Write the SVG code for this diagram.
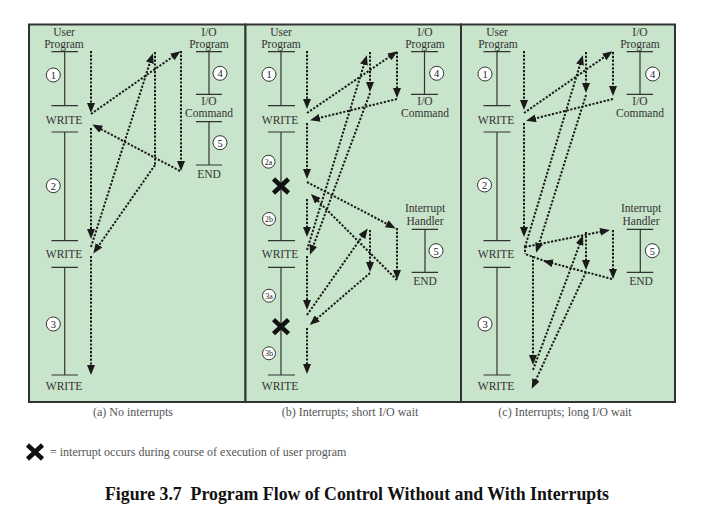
<svg xmlns="http://www.w3.org/2000/svg" width="706" height="518" viewBox="0 0 706 518">
<defs>
<marker id="ah" markerUnits="userSpaceOnUse" markerWidth="10" markerHeight="8" refX="7" refY="4" orient="auto">
<path d="M0,0 L10,4 L0,8 z" fill="#1a1a1a"/>
</marker>
<style>
.panel{fill:#c8e4ca;stroke:#333;stroke-width:2}
.lbl{font-family:"Liberation Serif","Times New Roman",serif;font-size:11.5px;fill:#333;text-anchor:middle}
.num{font-family:"Liberation Serif","Times New Roman",serif;font-size:10.5px;fill:#222;text-anchor:middle}
.sm{font-family:"Liberation Serif","Times New Roman",serif;font-size:8px;fill:#222;text-anchor:middle}
.cap{font-family:"Liberation Serif","Times New Roman",serif;font-size:12px;fill:#555;text-anchor:middle}
.leg{font-family:"Liberation Serif","Times New Roman",serif;font-size:12px;fill:#555}
.title{font-family:"Liberation Serif","Times New Roman",serif;font-size:17.8px;font-weight:bold;fill:#111;text-anchor:middle}
.tl{stroke:#333;stroke-width:1.2;fill:none}
.circ{fill:#fff;stroke:#333;stroke-width:1}
.fl{stroke:#1a1a1a;stroke-width:2;stroke-dasharray:2.2 1.6;fill:none}
.fa{stroke:#1a1a1a;stroke-width:2;stroke-dasharray:2.2 1.6;fill:none;marker-end:url(#ah)}
.x{stroke:#111;stroke-width:4.5;stroke-linecap:butt}
</style>
</defs>
<rect width="706" height="518" fill="#fff"/>

<g id="panels">
<rect class="panel" x="29" y="24.5" width="216.5" height="377.5"/>
<rect class="panel" x="245.5" y="24.5" width="215.5" height="377.5"/>
<rect class="panel" x="461" y="24.5" width="214" height="377.5"/>
</g>

<!-- Panel a -->
<g id="a-user">
<text class="lbl" x="64" y="35.5">User</text>
<text class="lbl" x="64" y="47.5">Program</text>
<path class="tl" d="M51.5,51.7H78M64.7,51.7V105.7M51.5,105.7H78M51.5,132H78M64.7,132V240.7M51.5,240.7H78M51.5,267.3H78M64.7,267.3V375M51.5,375H78"/>
<text class="lbl" x="64" y="123.5">WRITE</text>
<text class="lbl" x="64" y="258">WRITE</text>
<text class="lbl" x="64" y="390">WRITE</text>
<circle class="circ" cx="53.3" cy="75" r="7"/><text class="num" x="53.3" y="78.8">1</text>
<circle class="circ" cx="53.3" cy="185.7" r="7"/><text class="num" x="53.3" y="189.5">2</text>
<circle class="circ" cx="53.3" cy="324" r="7"/><text class="num" x="53.3" y="327.8">3</text>
</g>
<g id="a-io">
<text class="lbl" x="209" y="35.5">I/O</text>
<text class="lbl" x="209" y="47.5">Program</text>
<path class="tl" d="M196,51.7H222M209,51.7V94.3M196,94.3H222M196,121.7H222M209,121.7V165M196,165H222"/>
<text class="lbl" x="209" y="104.5">I/O</text>
<text class="lbl" x="209" y="116.5">Command</text>
<text class="lbl" x="209" y="177.5">END</text>
<circle class="circ" cx="220" cy="73.3" r="7"/><text class="num" x="220" y="77.1">4</text>
<circle class="circ" cx="220" cy="142.7" r="7"/><text class="num" x="220" y="146.5">5</text>
</g>

<!-- Panel b -->
<g id="b-user">
<text class="lbl" x="281" y="35.5">User</text>
<text class="lbl" x="281" y="47.5">Program</text>
<path class="tl" d="M268,51.7H295M281,51.7V105.7M268,105.7H295M268,132H295M281,132V240.7M268,240.7H295M268,267.3H295M281,267.3V375M268,375H295"/>
<text class="lbl" x="280" y="123.5">WRITE</text>
<text class="lbl" x="280" y="258">WRITE</text>
<text class="lbl" x="280" y="390">WRITE</text>
<circle class="circ" cx="269" cy="74.3" r="7"/><text class="num" x="269" y="78.1">1</text>
<circle class="circ" cx="268.5" cy="161.7" r="6.5"/><text class="sm" x="268.5" y="164.5">2a</text>
<circle class="circ" cx="269" cy="219" r="6.5"/><text class="sm" x="269" y="221.8">2b</text>
<circle class="circ" cx="269" cy="295.7" r="6.5"/><text class="sm" x="269" y="298.5">3a</text>
<circle class="circ" cx="269" cy="353.3" r="6.5"/><text class="sm" x="269" y="356.1">3b</text>
<path class="x" d="M273.5,179L288.5,193M288.5,179L273.5,193"/>
<path class="x" d="M273.5,319.7L288.5,333.7M288.5,319.7L273.5,333.7"/>
</g>
<g id="b-io">
<text class="lbl" x="425" y="35.5">I/O</text>
<text class="lbl" x="425" y="47.5">Program</text>
<path class="tl" d="M411,51.7H438M424.5,51.7V94.3M411,94.3H438"/>
<text class="lbl" x="425" y="104.5">I/O</text>
<text class="lbl" x="425" y="116.5">Command</text>
<circle class="circ" cx="436.7" cy="73.3" r="7"/><text class="num" x="436.7" y="77.1">4</text>
</g>
<g id="b-handler">
<text class="lbl" x="425" y="212">Interrupt</text>
<text class="lbl" x="425" y="224.5">Handler</text>
<path class="tl" d="M411.7,229.3H438M425,229.3V272.3M411.7,272.3H438"/>
<text class="lbl" x="425" y="285">END</text>
<circle class="circ" cx="436" cy="250.7" r="7"/><text class="num" x="436" y="254.5">5</text>
</g>

<!-- Panel c -->
<g id="c-user">
<text class="lbl" x="497" y="35.5">User</text>
<text class="lbl" x="498" y="47.5">Program</text>
<path class="tl" d="M483.5,51.7H510.5M497,51.7V105.7M483.5,105.7H510.5M483.5,132H510.5M497,132V240.7M483.5,240.7H510.5M483.5,267.3H510.5M497,267.3V375M483.5,375H510.5"/>
<text class="lbl" x="496" y="123.5">WRITE</text>
<text class="lbl" x="496" y="258">WRITE</text>
<text class="lbl" x="496" y="390">WRITE</text>
<circle class="circ" cx="485" cy="74" r="7"/><text class="num" x="485" y="77.8">1</text>
<circle class="circ" cx="484.5" cy="185" r="7"/><text class="num" x="484.5" y="188.8">2</text>
<circle class="circ" cx="485" cy="324" r="7"/><text class="num" x="485" y="327.8">3</text>
</g>
<g id="c-io">
<text class="lbl" x="640" y="35.5">I/O</text>
<text class="lbl" x="640" y="47.5">Program</text>
<path class="tl" d="M626.7,51.7H653M640,51.7V94.3M626.7,94.3H653"/>
<text class="lbl" x="640" y="104.5">I/O</text>
<text class="lbl" x="640" y="116.5">Command</text>
<circle class="circ" cx="652.7" cy="74" r="7"/><text class="num" x="652.7" y="77.8">4</text>
</g>
<g id="c-handler">
<text class="lbl" x="641" y="212">Interrupt</text>
<text class="lbl" x="641" y="224.5">Handler</text>
<path class="tl" d="M626.7,229.3H653.3M640.3,229.3V272.3M626.7,272.3H653.3"/>
<text class="lbl" x="641" y="285">END</text>
<circle class="circ" cx="652.3" cy="250.7" r="7"/><text class="num" x="652.3" y="254.5">5</text>
</g>

<g id="connectors">
<!-- a -->
<path class="fa" d="M91,51V110"/>
<path class="fa" d="M91,114L178,53"/>
<path class="fa" d="M181,51V168"/>
<path class="fa" d="M180,171L95,126"/>
<path class="fa" d="M91,128V236"/>
<path class="fa" d="M91,247L152,56"/>
<path class="fl" d="M155,52V165"/>
<path class="fa" d="M155,165L95,251"/>
<path class="fa" d="M91,256V372"/>
<!-- b -->
<path class="fa" d="M307,51V106"/>
<path class="fa" d="M307,113L395,53"/>
<path class="fa" d="M397,52V95"/>
<path class="fa" d="M397,99L313,119.5"/>
<path class="fa" d="M307,123V176"/>
<path class="fa" d="M307,182L393,227"/>
<path class="fa" d="M397,228V277"/>
<path class="fa" d="M397,280L313,196"/>
<path class="fa" d="M307,199V234"/>
<path class="fa" d="M307,250L366,58"/>
<path class="fa" d="M370,52V89"/>
<path class="fa" d="M370,93L311,252"/>
<path class="fa" d="M307,256V307"/>
<path class="fa" d="M307,315L366,231"/>
<path class="fa" d="M370,230V269"/>
<path class="fa" d="M370,273L312,323"/>
<path class="fa" d="M307,328V371"/>
<!-- c -->
<path class="fa" d="M524,51V107"/>
<path class="fa" d="M524,113L610,53"/>
<path class="fa" d="M613,52V93"/>
<path class="fa" d="M613,99L529,120"/>
<path class="fa" d="M524,123V234"/>
<path class="fl" d="M525,246V254"/>
<path class="fa" d="M525,247L607,230.5"/>
<path class="fa" d="M613,230V276"/>
<path class="fa" d="M612,279L546,261.5"/>
<path class="fl" d="M546,261.5L525,254"/>
<path class="fa" d="M525,247L582,58"/>
<path class="fa" d="M586,52V90"/>
<path class="fa" d="M586,95L537,250"/>
<path class="fa" d="M533,256V362"/>
<path class="fa" d="M533,370L582,238"/>
<path class="fa" d="M586,232V267"/>
<path class="fa" d="M586,272L533,386"/>
</g>

<g id="captions">
<text class="cap" x="133" y="416">(a) No interrupts</text>
<text class="cap" x="350" y="416">(b) Interrupts; short I/O wait</text>
<text class="cap" x="565" y="416">(c) Interrupts; long I/O wait</text>
</g>
<g id="legend">
<path class="x" d="M27.5,445L42.5,459M42.5,445L27.5,459"/>
<text class="leg" x="50" y="456">= interrupt occurs during course of execution of user program</text>
</g>
<text class="title" x="357" y="500">Figure 3.7&#160; Program Flow of Control Without and With Interrupts</text>
</svg>
